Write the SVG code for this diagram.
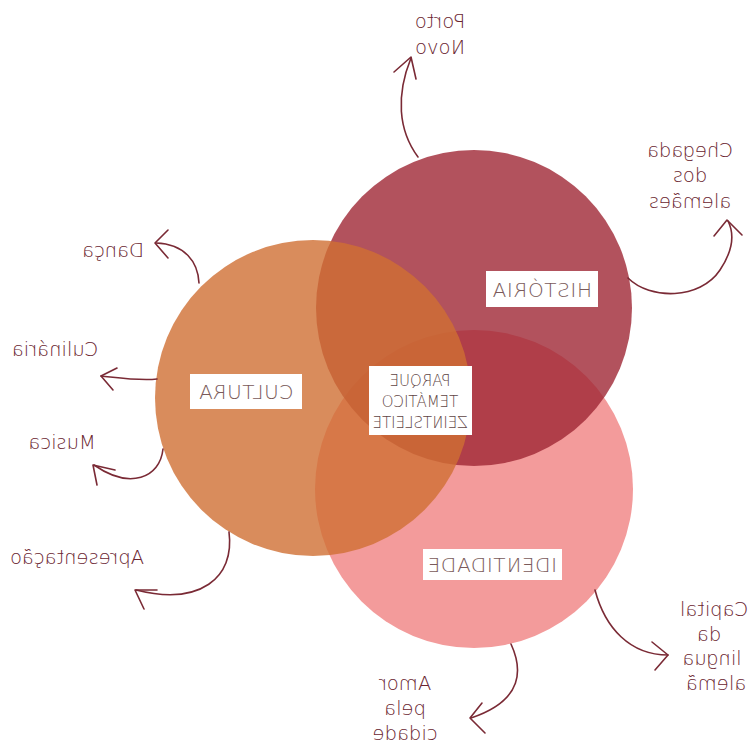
<svg xmlns="http://www.w3.org/2000/svg" width="750" height="747" viewBox="0 0 750 747">
<style>
.lbl{font-family:"DejaVu Sans","Liberation Sans",sans-serif;font-weight:200;fill:#6a2530;font-size:19.5px;text-anchor:middle}
.box{fill:#ffffff}
.btxt{font-family:"DejaVu Sans","Liberation Sans",sans-serif;font-weight:200;fill:#7a5a5a;font-size:20px;text-anchor:middle;letter-spacing:0.6px}
.ctxt{font-family:"DejaVu Sans","Liberation Sans",sans-serif;font-weight:200;fill:#5e4444;font-size:15px;text-anchor:middle}
.con{fill:none;stroke:#7a2a35;stroke-width:1.6;stroke-linecap:round;stroke-linejoin:round}
</style>
<rect width="750" height="747" fill="#ffffff"/>
<g id="identidade">
<circle cx="474" cy="489" r="159" fill="#f39b9b"/>
</g>
<g id="historia">
<circle cx="474" cy="308" r="158" fill="#9f2734" fill-opacity="0.8"/>
</g>
<g id="cultura">
<circle cx="313" cy="398" r="158" fill="#cf6f33" fill-opacity="0.8"/>
</g>
<g id="historia-label">
<rect class="box" x="486" y="271" width="112" height="36"/>
<text class="btxt" transform="scale(-1,1)" x="-542" y="297">HISTÓRIA</text>
</g>
<g id="cultura-label">
<rect class="box" x="190" y="374" width="112" height="35"/>
<text class="btxt" transform="scale(-1,1)" x="-246" y="399">CULTURA</text>
</g>
<g id="identidade-label">
<rect class="box" x="423" y="549" width="139" height="31"/>
<text class="btxt" transform="scale(-1,1)" x="-492" y="572">IDENTIDADE</text>
</g>
<g id="centro">
<rect class="box" x="369" y="366" width="103" height="69"/>
<text class="ctxt" transform="scale(-1,1)" x="-420" y="386">PARQUE</text>
<text class="ctxt" transform="scale(-1,1)" x="-420" y="407">TEMÁTICO</text>
<text class="ctxt" transform="scale(-1,1)" x="-420" y="428">ZEINTSLEITE</text>
</g>
<g id="connectors">
<path class="con" d="M418,157 C398,130 396,95 411,58"/>
<polyline class="con" points="394,72 411,57 416,79"/>
<path class="con" d="M628,278 C650,300 700,300 720,270 C732,252 735,235 728,221"/>
<polyline class="con" points="714,236 727,220 742,235"/>
<path class="con" d="M199,283 C198,262 185,244 156,243"/>
<polyline class="con" points="168,230 155,243 168,258"/>
<path class="con" d="M157,379 C140,381 120,378 101,376"/>
<polyline class="con" points="117,368 101,376 113,390"/>
<path class="con" d="M163,449 C160,478 130,490 94,465"/>
<polyline class="con" points="115,470 93,465 97,485"/>
<path class="con" d="M229,532 C235,578 200,606 136,590"/>
<polyline class="con" points="157,590 135,590 144,609"/>
<path class="con" d="M595,590 C605,628 630,655 668,655"/>
<polyline class="con" points="652,642 668,655 655,670"/>
<path class="con" d="M511,644 C522,668 525,700 471,718"/>
<polyline class="con" points="482,703 470,718 485,733"/>
</g>
<g id="labels">
<text class="lbl" transform="scale(-1,1)" x="-440" y="28">Porto</text>
<text class="lbl" transform="scale(-1,1)" x="-440" y="54">Novo</text>
<text class="lbl" transform="scale(-1,1)" x="-690" y="157">Chegada</text>
<text class="lbl" transform="scale(-1,1)" x="-690" y="182">dos</text>
<text class="lbl" transform="scale(-1,1)" x="-690" y="208">alemães</text>
<text class="lbl" transform="scale(-1,1)" x="-113" y="257">Dança</text>
<text class="lbl" transform="scale(-1,1)" x="-55" y="356">Culinária</text>
<text class="lbl" transform="scale(-1,1)" x="-62" y="449">Musica</text>
<text class="lbl" transform="scale(-1,1)" x="-77" y="564">Apresentação</text>
<text class="lbl" transform="scale(-1,1)" x="-714" y="616">Capital</text>
<text class="lbl" transform="scale(-1,1)" x="-709" y="641">da</text>
<text class="lbl" transform="scale(-1,1)" x="-712" y="665">lingua</text>
<text class="lbl" transform="scale(-1,1)" x="-716" y="690">alemã</text>
<text class="lbl" transform="scale(-1,1)" x="-405" y="690">Amor</text>
<text class="lbl" transform="scale(-1,1)" x="-405" y="715">pela</text>
<text class="lbl" transform="scale(-1,1)" x="-405" y="740">cidade</text>
</g>
</svg>
